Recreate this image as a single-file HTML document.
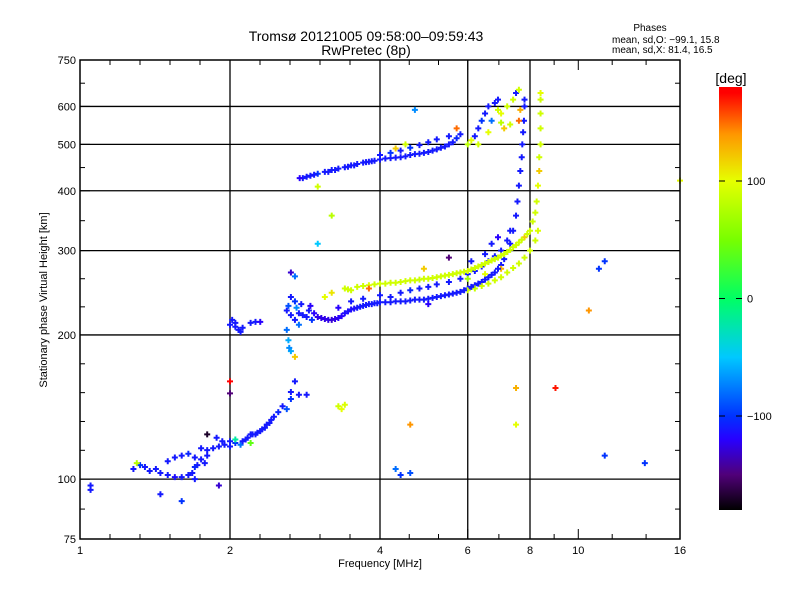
<!DOCTYPE html>
<html><head><meta charset="utf-8"><style>
body{margin:0;background:#fff;}
svg{display:block;font-family:"Liberation Sans",sans-serif;}
text{fill:#000;}
</style></head><body>
<svg id="chart" width="800" height="600" viewBox="0 0 800 600" xmlns="http://www.w3.org/2000/svg">
<defs>
<linearGradient id="cb" x1="0" y1="1" x2="0" y2="0">
<stop offset="0" stop-color="#000000"/>
<stop offset="0.083" stop-color="#500078"/>
<stop offset="0.167" stop-color="#2800ff"/>
<stop offset="0.222" stop-color="#0032ff"/>
<stop offset="0.361" stop-color="#00c8ff"/>
<stop offset="0.5" stop-color="#00ff64"/>
<stop offset="0.639" stop-color="#78ff00"/>
<stop offset="0.778" stop-color="#e6ff00"/>
<stop offset="0.889" stop-color="#ff9600"/>
<stop offset="0.986" stop-color="#ff0000"/>
<stop offset="1" stop-color="#ff0000"/>
</linearGradient>
</defs>
<text x="366" y="41" font-size="14" text-anchor="middle">Tromsø 20121005 09:58:00–09:59:43</text>
<text x="366" y="55" font-size="14" text-anchor="middle">RwPretec (8p)</text>
<text x="650" y="31" font-size="10" text-anchor="middle">Phases</text>
<text x="612" y="43" font-size="10">mean, sd,O: −99.1, 15.8</text>
<text x="612" y="53" font-size="10">mean, sd,X:  81.4, 16.5</text>
<g id="grid"></g>
<g id="marks"></g>
<rect x="80" y="60" width="600" height="479" fill="none" stroke="#000" stroke-width="1.5"/>
<g id="ticks"></g>
<text x="380" y="567" font-size="11" text-anchor="middle">Frequency [MHz]</text>
<text x="47" y="300" font-size="11" text-anchor="middle" transform="rotate(-90 47 300)">Stationary phase Virtual Height [km]</text>
<rect x="719" y="87" width="23" height="423" fill="url(#cb)"/>
<text x="731" y="83" font-size="14" text-anchor="middle">[deg]</text>
<g id="cbticks"></g>
</svg>
<script>
const xTicks=[1,2,4,6,8,10,16];
const yTicks=[75,100,200,300,400,500,600,750];
const xGrid=[2,4,6,8];
const yGrid=[100,200,300,400,500,600];
const cbTicks=[100,0,-100];
const freq=[1.05,1.05,1.28,1.32,1.35,1.38,1.42,1.45,1.5,1.55,1.6,1.65,1.68,1.7,1.45,1.3,
1.5,1.55,1.6,1.65,1.7,1.75,1.8,1.75,1.8,1.85,1.9,1.95,2.0,2.05,2.1,2.0,1.93,1.88,1.78,1.72,1.7,
2.15,2.2,2.25,2.3,2.35,2.4,2.45,2.5,2.55,2.6,2.65,2.65,2.7,2.75,2.85,
1.6,1.9,2.0,2.0,1.8,2.05,2.2,2.7,2.65,
2.0,2.02,2.05,2.08,2.1,2.12,2.05,2.2,2.25,2.3,
2.6,2.62,2.65,2.65,2.7,2.7,2.72,2.75,2.78,2.8,2.85,2.88,2.9,2.92,2.65,2.7,2.6,2.62,2.63,2.75,
2.95,3.0,3.1,3.2,3.3,3.4,3.5,3.6,3.7,3.8,3.9,4.0,4.2,4.4,4.6,4.8,5.0,5.2,5.4,5.6,5.8,6.0,6.2,6.4,6.6,6.8,7.0,7.1,7.2,7.3,7.4,7.5,7.55,7.6,7.65,7.7,7.72,7.75,7.78,7.8,7.8,
3.3,3.5,3.7,4.0,4.2,4.4,4.6,4.8,5.0,5.2,5.5,5.8,6.0,6.2,6.4,6.6,6.8,7.0,7.2,7.3,6.5,6.7,6.1,6.9,
3.4,3.5,3.6,3.8,4.0,4.2,4.4,4.6,4.8,5.0,5.2,5.4,5.6,5.8,6.0,6.2,6.4,6.6,6.8,7.0,7.2,7.4,7.6,7.8,8.0,8.1,8.2,8.25,8.3,8.35,8.35,8.4,8.4,8.4,8.4,8.4,3.1,3.2,
6.0,6.2,6.4,6.6,6.8,7.0,7.2,7.4,7.6,7.8,8.0,8.2,8.3,6.0,6.5,7.0,
2.8,2.9,3.0,3.1,3.2,3.3,3.4,3.5,3.6,3.7,3.8,3.9,4.0,4.1,4.2,4.4,4.5,4.6,4.8,5.0,5.2,5.4,5.6,5.7,5.8,4.0,4.2,4.4,4.6,4.8,5.0,5.2,5.5,5.7,4.3,4.5,3.0,
6.0,6.1,6.2,6.3,6.4,6.5,6.6,6.8,6.7,6.9,7.0,7.2,7.4,7.5,7.6,7.3,7.0,6.6,6.3,7.6,7.65,6.9,7.1,
4.7,3.2,3.3,3.35,3.4,4.3,4.4,4.6,4.6,7.5,7.5,9.0,10.5,11.0,11.3,11.3,13.6,16,3.0,3.8,5.5,5.0,4.9,
3.05,3.15,3.25,3.35,3.45,3.55,3.65,3.75,3.85,3.95,4.1,4.3,4.5,4.7,4.9,5.1,5.3,5.5,5.7,5.9,6.1,6.3,6.5,6.7,6.9,
3.45,3.7,3.9,4.1,4.3,4.5,4.7,4.9,5.1,5.3,5.5,5.7,5.9,6.1,6.3,6.5,6.7,6.9,7.1,7.3,7.5,7.7,7.9,
2.76,2.85,2.95,3.15,3.25,3.45,3.55,3.75,3.85,4.3,4.7,4.9,5.1,5.3,5.5,
2.12,2.17,2.22,2.27,2.32,2.37,2.42];
const height=[97,95,105,107,106,104,105,103,102,101,101,102,103,100,93,108,
109,111,112,113,111,110,112,116,115,116,117,118,117,119,118,120,120,122,108,107,106,
121,124,124,126,128,131,135,138,142,140,147,152,160,150,150,
90,97,160,151,124,121,119,180,185,
210,215,208,205,203,207,212,212,213,213,
225,230,240,220,235,215,228,222,232,220,218,225,230,215,270,265,205,195,188,210,
222,218,216,215,217,222,226,228,230,232,233,234,234,235,236,237,238,240,242,244,246,250,254,258,264,270,280,288,298,310,330,355,380,410,440,470,500,530,560,600,620,
228,235,238,242,240,245,248,250,252,255,258,262,268,272,278,285,292,300,315,330,295,310,285,320,
250,248,252,254,256,257,258,260,261,262,264,266,268,270,272,276,280,284,288,293,298,305,312,320,330,345,360,380,410,440,470,500,540,580,620,640,240,245,
248,250,253,256,260,264,270,276,282,290,300,315,330,262,268,275,
425,430,434,438,442,445,448,452,455,458,460,462,465,467,468,470,472,475,478,482,488,495,505,515,525,475,480,485,492,498,505,512,520,540,490,500,408,
500,510,520,540,560,580,600,610,560,590,580,600,620,640,650,550,555,530,500,560,590,620,540,
590,355,142,140,143,105,102,130,103,155,130,155,225,275,285,112,108,420,310,250,290,232,275,
217,215,216,219,224,227,229,231,232,233,234,235,235,237,237,239,241,243,245,248,252,256,261,267,275,
249,253,255,256,257,259,260,262,263,265,267,269,271,274,278,282,286,290,295,301,308,316,325,
425,428,432,438,442,449,452,459,461,469,477,480,485,492,500,
120,122,124,125,127,130,133];
const phase=[-110,-110,-110,-100,-110,-110,-110,-110,-110,-115,-110,-110,-110,-110,-110,80,
-110,-110,-110,-105,-110,-110,-110,-110,-110,-110,-110,-110,-110,-100,-80,-110,-110,-110,-110,-110,-105,
-110,-110,-110,-110,-110,-110,-110,-105,-110,-90,-100,-110,-110,-110,-110,
-100,-130,175,-150,-170,-20,40,120,-60,
-110,-110,-110,-110,-110,-110,-110,-110,-110,-120,
-110,-90,-110,-110,-100,-110,-70,-110,-110,-110,-110,-110,-120,-100,-130,-80,-80,-60,-70,-80,
-120,-125,-125,-130,-120,-115,-115,-110,-110,-110,-110,-110,-110,-110,-110,-110,-110,-110,-110,-110,-110,-110,-110,-110,-110,-110,-110,-110,-110,-110,-110,-110,-110,-110,-110,-110,-110,-110,-110,-110,-110,
-120,-110,-110,-110,-110,-110,-105,-110,-110,-110,-110,-110,-110,-110,-110,-110,-110,-110,-110,-110,-110,-110,-110,-120,
90,90,90,95,90,90,90,90,85,90,90,90,90,90,95,90,90,90,90,90,90,90,90,120,90,90,90,90,100,120,90,90,90,90,90,100,100,110,
90,85,90,90,90,90,90,90,90,90,90,90,95,70,100,130,
-110,-110,-100,-110,-110,-110,-110,-110,-110,-110,-110,-110,-110,-110,-110,-110,-110,-110,-110,-110,-110,-110,-110,-105,-110,-110,-100,-110,-100,-110,-110,-110,-110,150,120,90,90,
80,100,-110,-110,-100,-110,-110,-110,-80,90,100,90,90,-110,90,90,80,100,90,150,130,-110,120,
-70,80,90,100,95,-80,-100,140,-90,130,100,170,140,-100,-100,-100,-100,100,-50,150,-150,-120,120,
-125,-125,-125,-120,-115,-115,-110,-110,-110,-110,-110,-110,-110,-110,-110,-110,-110,-110,-110,-110,-110,-110,-110,-110,-110,
90,90,90,90,90,90,90,90,90,90,90,90,90,90,90,90,90,90,90,90,90,90,90,
-120,-110,-110,-110,-110,-110,-110,-110,-110,-110,-110,-110,-110,-110,-110,
-110,-110,-110,-110,-110,-110,-110];

const NS="http://www.w3.org/2000/svg";
const X0=80,X1=680,Y0=539,Y1=60;
function xs(f){return X0+(X1-X0)*Math.log2(f)/4;}
function ys(h){return Y0-(Y0-Y1)*Math.log10(h/75);}
function cbY(p){return 510-(p+180)/360*423;}
const stops=[[-180,0,0,0],[-150,80,0,120],[-120,40,0,255],[-100,0,50,255],[-50,0,200,255],[0,0,255,100],[50,120,255,0],[100,230,255,0],[140,255,150,0],[175,255,0,0],[180,255,0,0]];
function col(p){for(let i=0;i<stops.length-1;i++){const a=stops[i],b=stops[i+1];if(p<=b[0]){const t=Math.max(0,(p-a[0])/(b[0]-a[0]));return `rgb(${Math.round(a[1]+t*(b[1]-a[1]))},${Math.round(a[2]+t*(b[2]-a[2]))},${Math.round(a[3]+t*(b[3]-a[3]))})`;}}return "red";}
function el(t,a,parent){const e=document.createElementNS(NS,t);for(const k in a)e.setAttribute(k,a[k]);parent.appendChild(e);return e;}

const grid=document.getElementById('grid');
xGrid.forEach(v=>{const l=el('line',{x1:xs(v),x2:xs(v),y1:Y1,y2:Y0,stroke:'#000','stroke-width':1.3},grid);

});
yGrid.forEach(v=>{const l=el('line',{x1:X0,x2:X1,y1:ys(v),y2:ys(v),stroke:'#000','stroke-width':1.3},grid);

});

const ticks=document.getElementById('ticks');
xTicks.forEach(v=>{const t=el('text',{x:xs(v),y:554,'font-size':11,'text-anchor':'middle'},ticks);t.textContent=v;


el('line',{x1:xs(v),x2:xs(v),y1:Y0,y2:Y0-10,stroke:'#000'},ticks);el('line',{x1:xs(v),x2:xs(v),y1:Y1,y2:Y1+10,stroke:'#000'},ticks);});
for(let i=0;i<xTicks.length-1;i++){const a=xs(xTicks[i]),b=xs(xTicks[i+1]);const n=Math.max(2,Math.round((b-a)/30));for(let k=1;k<n;k++){const x=a+(b-a)*k/n;el('line',{x1:x,x2:x,y1:Y0,y2:Y0-5,stroke:'#000'},ticks);el('line',{x1:x,x2:x,y1:Y1,y2:Y1+5,stroke:'#000'},ticks);}}
yTicks.forEach(v=>{const t=el('text',{x:76,y:ys(v)+4,'font-size':11,'text-anchor':'end'},ticks);t.textContent=v;


el('line',{x1:X0,x2:X0+10,y1:ys(v),y2:ys(v),stroke:'#000'},ticks);el('line',{x1:X1,x2:X1-10,y1:ys(v),y2:ys(v),stroke:'#000'},ticks);});
for(let i=0;i<yTicks.length-1;i++){const a=ys(yTicks[i]),b=ys(yTicks[i+1]);const n=Math.max(1,Math.round((a-b)/29));for(let k=1;k<n;k++){const y=a+(b-a)*k/n;el('line',{x1:X0,x2:X0+5,y1:y,y2:y,stroke:'#000'},ticks);el('line',{x1:X1,x2:X1-5,y1:y,y2:y,stroke:'#000'},ticks);}}

const marks=document.getElementById('marks');
for(let i=0;i<freq.length;i++){const x=xs(freq[i]),y=ys(height[i]),c=col(phase[i]);
const p=el('path',{d:`M${x-3} ${y}H${x+3}M${x} ${y-3}V${y+3}`,stroke:c,'stroke-width':2},marks);

}

const cbt=document.getElementById('cbticks');
cbTicks.forEach(v=>{const y=cbY(v);el('line',{x1:742,x2:736,y1:y,y2:y,stroke:'#000'},cbt);el('line',{x1:719,x2:725,y1:y,y2:y,stroke:'#000'},cbt);
const t=el('text',{x:747,y:y+4,'font-size':11},cbt);t.textContent=v===-100?'−100':v;

});
</script>
</body></html>
